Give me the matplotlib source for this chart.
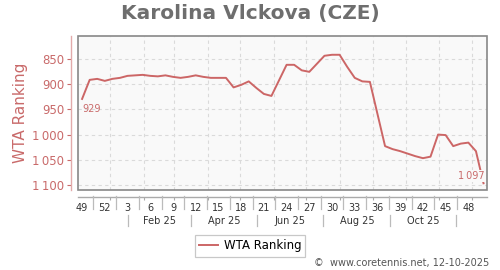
import matplotlib
matplotlib.use('Agg')
import matplotlib.pyplot as plt
from matplotlib.patches import Rectangle
from matplotlib.lines import Line2D
from matplotlib.transforms import blended_transform_factory
import datetime as dt

# ---- data ----
week_index = list(range(54))
ranks = [929, 891, 889, 893, 889, 887, 883, 882, 881, 883, 884, 882, 885, 887,
         885, 882, 885, 887, 887, 887, 906, 901, 894, 907, 919, 923, 892, 861,
         861, 872, 875, 859, 843, 841, 841, 865, 887, 894, 895, 959, 1023, 1029,
         1033, 1038, 1043, 1047, 1044, 1000, 1001, 1023, 1018, 1016, 1033, 1097]
week_tick_pos = list(range(0, 54, 3))
week_tick_labels = ['49', '52', '3', '6', '9', '12', '15', '18', '21', '24',
                    '27', '30', '33', '36', '39', '42', '45', '48']
month_labels = ['Feb 25', 'Apr 25', 'Jun 25', 'Aug 25', 'Oct 25']
y_ticks = [850, 900, 950, 1000, 1050, 1100]
series_name = 'WTA Ranking'
title = 'Karolina Vlckova (CZE)'
credit = '\u00a9  www.coretennis.net, 12-10-2025'

# ---- styling ----
line_col = '#cc6666'
rose = '#c96a6a'
base = dt.date(2024, 12, 6)


def idx(d):
    return (d - base).days / 7.0


W, H = 500, 270
fig = plt.figure(figsize=(5, 2.7), dpi=100)
L, R, T, B = 78.3, 487.3, 35.7, 190.3
ax = fig.add_axes([L / W, 1 - B / H, (R - L) / W, (B - T) / H])
ax.set_facecolor('#f9f9f9')

ax.plot(week_index, ranks, color=line_col, lw=1.4, label=series_name,
        solid_joinstyle='round', zorder=3)
ax.set_xlim(-0.5, 53.5)
ax.set_ylim(1111, 803)

# y axis
ax.set_yticks(y_ticks)
ax.set_yticklabels([f'{v:,}'.replace(',', '\u2009') for v in y_ticks])
ax.tick_params(axis='y', colors=rose, labelsize=8.5, length=3, width=0.8,
               pad=2, labelcolor=rose)

# x axis
month_starts = [idx(dt.date(2025, m, 1)) for m in range(1, 13)]
ax.set_xticks(week_tick_pos)
ax.set_xticklabels(week_tick_labels)
ax.set_xticks(month_starts, minor=True)
ax.tick_params(axis='x', which='major', length=0, labelsize=7,
               labelcolor='#333333', pad=4.5)
ax.tick_params(axis='x', which='minor', length=2.5, color='#aaaaaa', width=0.8)

# grid
ax.grid(False)
for y in y_ticks:
    ax.axhline(y, color='#dadada', lw=0.8, ls=(0, (3, 3)), zorder=1)
for x in month_starts:
    ax.axvline(x, color='#dadada', lw=0.8, ls=(0, (3, 3)), zorder=1)

# spines
for s in ['top', 'right']:
    ax.spines[s].set_visible(False)
ax.spines['left'].set_position(('outward', 5))
ax.spines['left'].set_color('#e2aaaa')
ax.spines['left'].set_linewidth(1.0)
ax.spines['bottom'].set_position(('outward', 5))
ax.spines['bottom'].set_color('#aaaaaa')
ax.spines['bottom'].set_linewidth(1.0)
ax.add_patch(Rectangle((0, 0), 1, 1, transform=ax.transAxes, fill=False,
                       edgecolor='#888888', lw=1.2, zorder=5, clip_on=False))

# separators
bt = blended_transform_factory(ax.transData, fig.transFigure)
for i in range(len(week_tick_pos) - 1):
    x = (week_tick_pos[i] + week_tick_pos[i + 1]) / 2
    fig.add_artist(Line2D([x, x], [1 - 196 / H, 1 - 209 / H], transform=bt,
                          color='#bbbbbb', lw=0.9))
sep_pos = [idx(dt.date(2025, m, 17)) for m in (1, 3, 5, 7, 9, 11)]
for x in sep_pos:
    fig.add_artist(Line2D([x, x], [1 - 215 / H, 1 - 226 / H], transform=bt,
                          color='#bbbbbb', lw=0.9))
for k, lab in enumerate(month_labels):
    x = (sep_pos[k] + sep_pos[k + 1]) / 2
    fig.text(0, 0, lab, transform=bt, fontsize=7, color='#333333',
             ha='center', va='center').set_position((x, 1 - 220.7 / H))

# data labels
ax.annotate('929', xy=(week_index[0], ranks[0]), xytext=(0, -7),
            textcoords='offset points', ha='left', va='center', fontsize=7,
            color=rose, zorder=6)
ax.annotate(f'{ranks[-1]:,}'.replace(',', '\u2009'),
            xy=(week_index[-1], ranks[-1]), xytext=(0.5, 5.3),
            textcoords='offset points', ha='right', va='center', fontsize=7,
            color=rose, zorder=6,
            bbox=dict(facecolor='#f9f9f9', edgecolor='none', pad=0.6))

# texts
fig.text(0.5, 1 - 13 / H, title, ha='center', va='center', fontsize=14.5,
         fontweight='bold', color='#6e6e6e')
fig.text(20.7 / W, 1 - 112.5 / H, series_name, rotation=90, ha='center',
         va='center', fontsize=11, color=rose)
fig.text(489 / W, 1 - 263 / H, credit, ha='right', va='center', fontsize=7,
         color='#555555')

leg = fig.legend(loc='center', bbox_to_anchor=(250 / W, 1 - 246 / H),
                 fontsize=8.5, frameon=True, fancybox=False, handlelength=1.6,
                 handletextpad=0.5, borderpad=0.35, borderaxespad=0)
leg.get_frame().set_edgecolor('#bbbbbb')
leg.get_frame().set_linewidth(0.9)

fig.savefig('out.png', dpi=100)
